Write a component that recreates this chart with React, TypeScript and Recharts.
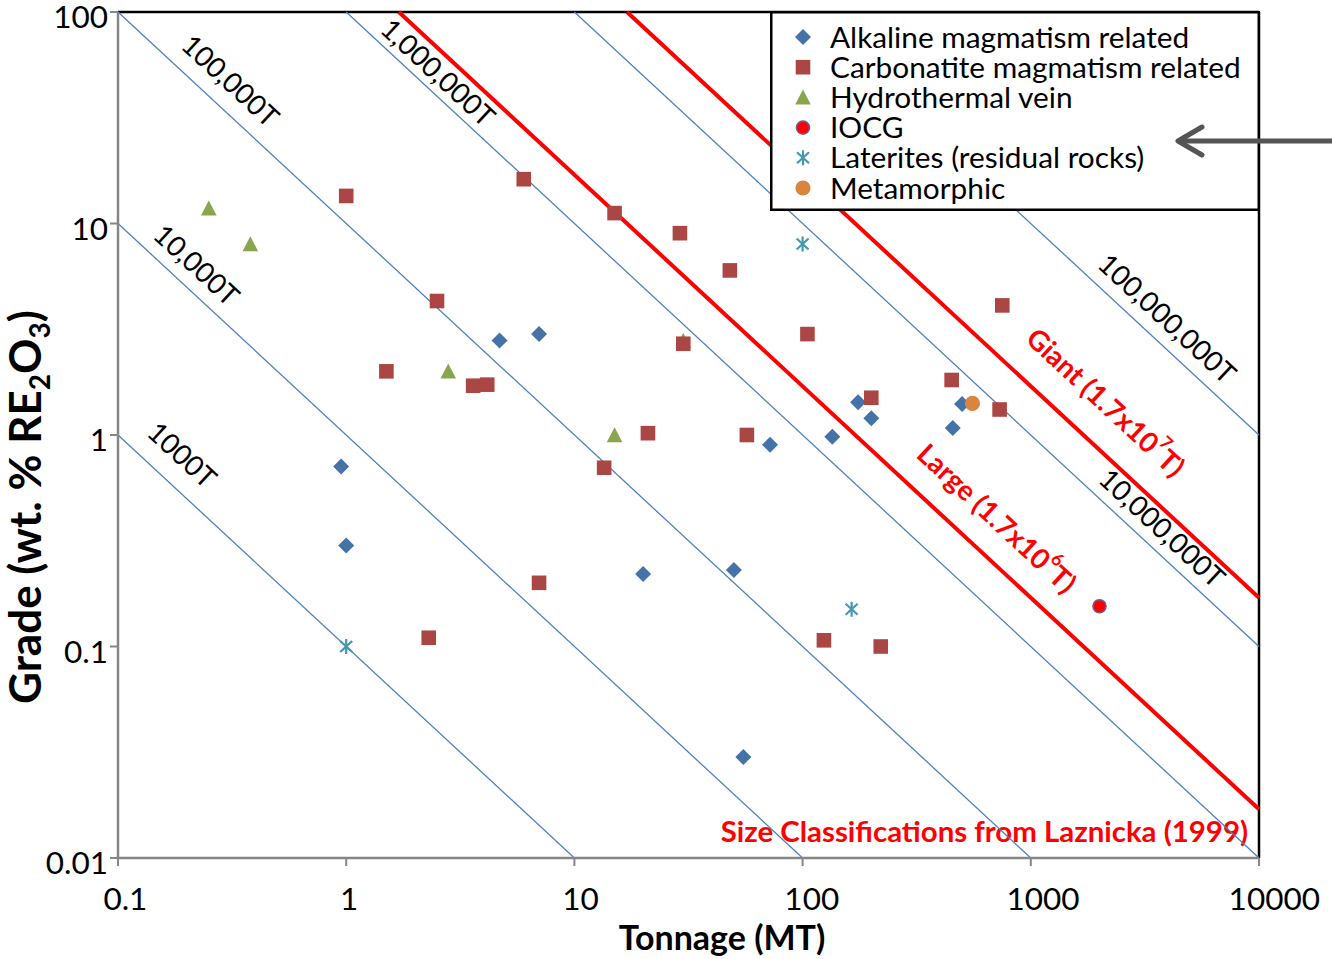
import React from 'react';
import { ScatterChart, Scatter, XAxis, YAxis, ReferenceLine, ReferenceDot, Legend } from 'recharts';

const FONT = 'Lato, "Open Sans", sans-serif';

// ---- axes ----
const X_MIN = 0.1;
const X_MAX = 10000;
const Y_MIN = 0.01;
const Y_MAX = 100;
const xTicks = [0.1, 1, 10, 100, 1000, 10000];
const yTicks = [0.01, 0.1, 1, 10, 100];

// ---- deposits: tonnage (MT) vs grade (wt. % RE2O3) ----
const alkaline = [
  { x: 0.95, y: 0.71 }, { x: 1.0, y: 0.3 }, { x: 4.7, y: 2.8 }, { x: 7.0, y: 3.0 },
  { x: 20, y: 0.22 }, { x: 50, y: 0.23 }, { x: 55, y: 0.03 }, { x: 72, y: 0.9 },
  { x: 135, y: 0.98 }, { x: 175, y: 1.43 }, { x: 200, y: 1.2 }, { x: 455, y: 1.08 },
  { x: 500, y: 1.4 },
];
const carbonatite = [
  { x: 1.0, y: 13.5 }, { x: 6.0, y: 16.2 }, { x: 15, y: 11.2 }, { x: 29, y: 9.0 },
  { x: 48, y: 6.0 }, { x: 2.5, y: 4.3 }, { x: 1.5, y: 2.0 }, { x: 3.6, y: 1.71 },
  { x: 4.15, y: 1.73 }, { x: 30, y: 2.7 }, { x: 105, y: 3.0 }, { x: 13.5, y: 0.7 },
  { x: 21, y: 1.02 }, { x: 57, y: 1.0 }, { x: 200, y: 1.5 }, { x: 450, y: 1.82 },
  { x: 750, y: 4.1 }, { x: 730, y: 1.32 }, { x: 2.3, y: 0.11 }, { x: 7.0, y: 0.2 },
  { x: 124, y: 0.107 }, { x: 220, y: 0.1 },
];
const hydrothermal = [
  { x: 0.25, y: 11.8 }, { x: 0.38, y: 8.0 }, { x: 2.8, y: 2.0 }, { x: 15, y: 1.0 }, { x: 30, y: 2.8 },
];
const iocg = [{ x: 2000, y: 0.155 }];
const laterites = [{ x: 1.0, y: 0.1 }, { x: 100, y: 8.0 }, { x: 164, y: 0.15 }];
const metamorphic = [{ x: 555, y: 1.41 }];

// ---- contained-metal iso-lines (tonnes RE2O3) ----
const isoTonnages = [1000, 10000, 100000, 1000000, 10000000, 100000000];
const isoLabels = ['1000T', '10,000T', '100,000T', '1,000,000T', '10,000,000T', '100,000,000T'];
// Laznicka (1999) size classes
const classTonnages = [1.7e6, 1.7e7];
const classNames = ['Large', 'Giant'];
const classExponents = ['6', '7'];

// ---- label layout (where along each line, and distance from it) ----
const isoLabelAt = [0.1565, 0.1887, 0.26, 2.23, 3256, 3378];
const isoLabelOffset = [30, 24, 27, 19, 22, 24];
const classLabelAt = [558, 1628];
const classLabelOffset = [36, 40];

// ---- layout ----
const W = 1332;
const H = 959;
const PLOT = { left: 118, top: 12, right: 1259, bottom: 858 };
const Y_AXIS_W = 60;
const X_AXIS_H = 60;
const M = {
  top: PLOT.top,
  right: W - PLOT.right,
  bottom: H - PLOT.bottom - X_AXIS_H,
  left: PLOT.left - Y_AXIS_W,
};
const PW = PLOT.right - PLOT.left;
const PH = PLOT.bottom - PLOT.top;
const ANGLE = (Math.atan2(PH / 4, PW / 5) * 180) / Math.PI;

const COLORS = {
  alkaline: '#4572A7',
  carbonatite: '#AA4643',
  hydro: '#89A54E',
  iocg: '#FF0000',
  iocgStroke: '#71588F',
  laterite: '#4198AF',
  meta: '#DB843D',
  iso: '#4F81BD',
  red: '#FF0000',
  axis: '#868686',
};

const seriesMeta = [
  { name: 'Alkaline magmatism related', kind: 'diamond' },
  { name: 'Carbonatite magmatism related', kind: 'square' },
  { name: 'Hydrothermal vein', kind: 'triangle' },
  { name: 'IOCG', kind: 'iocg' },
  { name: 'Laterites (residual rocks)', kind: 'asterisk' },
  { name: 'Metamorphic', kind: 'meta' },
];

function Marker({ kind, cx, cy }: { kind: string; cx: number; cy: number }) {
  if (cx == null || cy == null) return null;
  switch (kind) {
    case 'diamond':
      return <path d={`M${cx},${cy - 8}L${cx + 8},${cy}L${cx},${cy + 8}L${cx - 8},${cy}Z`} fill={COLORS.alkaline} />;
    case 'square':
      return <rect x={cx - 7.3} y={cy - 7.3} width={14.6} height={14.6} fill={COLORS.carbonatite} />;
    case 'triangle':
      return <path d={`M${cx},${cy - 7.8}L${cx + 7.8},${cy + 7.2}L${cx - 7.8},${cy + 7.2}Z`} fill={COLORS.hydro} />;
    case 'iocg':
      return <circle cx={cx} cy={cy} r={6.5} fill={COLORS.iocg} stroke={COLORS.iocgStroke} strokeWidth={1.6} />;
    case 'asterisk':
      return (
        <g stroke={COLORS.laterite} strokeWidth={2.2}>
          <line x1={cx} y1={cy - 7.5} x2={cx} y2={cy + 7.5} />
          <line x1={cx - 6} y1={cy - 5.5} x2={cx + 6} y2={cy + 5.5} />
          <line x1={cx - 6} y1={cy + 5.5} x2={cx + 6} y2={cy - 5.5} />
        </g>
      );
    case 'meta':
      return <circle cx={cx} cy={cy} r={7.6} fill={COLORS.meta} />;
    default:
      return null;
  }
}

const shapeOf = (kind: string) => (p: any) => <Marker kind={kind} cx={p.cx} cy={p.cy} />;

function isoSegment(tonnes: number) {
  const k = tonnes / 1e4; // tonnage(MT) * grade(%) product
  const x0 = Math.max(X_MIN, k / Y_MAX);
  const x1 = Math.min(X_MAX, k / Y_MIN);
  return [
    { x: x0, y: k / x0 },
    { x: x1, y: k / x1 },
  ];
}

function lineLabel(content: React.ReactNode, offset: number, color: string, bold: boolean, size: number) {
  return (props: any) => {
    const vb = props.viewBox || {};
    const cx = (vb.x || 0) + (vb.width || 0) / 2;
    const cy = (vb.y || 0) + (vb.height || 0) / 2;
    return (
      <text
        transform={`translate(${cx},${cy}) rotate(${ANGLE})`}
        x={0}
        y={-offset}
        textAnchor="middle"
        dominantBaseline="central"
        fill={color}
        fontFamily={FONT}
        fontSize={size}
        fontWeight={bold ? 700 : 400}
      >
        {content}
      </text>
    );
  };
}

const XTick = (props: any) => {
  const { x, y, payload } = props;
  const label = String(payload.value);
  const digits = label.replace('.', '').length;
  const dots = label.length - digits;
  const w = digits * 18 + dots * 7.5;
  return (
    <text x={x + 0.17 * w} y={y + 44} textAnchor="middle" fontFamily={FONT} fontSize={31.5} fill="#000">
      {label}
    </text>
  );
};

const YTick = (props: any) => {
  const { x, y, payload } = props;
  return (
    <text x={x} y={y + 16} textAnchor="end" fontFamily={FONT} fontSize={31.5} fill="#000">
      {String(payload.value)}
    </text>
  );
};

// legend box (770..1260 x 11..211) plus the pointer arrow that overlaps it
const LEG = { left: 770, top: 11, w: 490, h: 200, full: W - 770 };
const LegendBox = () => (
  <svg width={LEG.full} height={LEG.h} style={{ display: 'block', overflow: 'visible' }}>
    <rect x={1.25} y={1.25} width={LEG.w - 2.5} height={LEG.h - 2.5} fill="#fff" stroke="#000" strokeWidth={2.5} />
    {seriesMeta.map((s, i) => {
      const cy = 26 + i * 30.2;
      return (
        <g key={s.name}>
          <Marker kind={s.kind} cx={33} cy={cy} />
          <text x={60} y={cy + 10.5} fontFamily={FONT} fontSize={29.8} fill="#000">
            {s.name}
          </text>
        </g>
      );
    })}
    <g stroke="#555555" strokeWidth={5} fill="none" strokeLinecap="round" transform={`translate(${-LEG.left},${-LEG.top})`}>
      <line x1={1334} y1={141} x2={1180} y2={141} />
      <polyline points="1202,127 1178,141 1202,155" strokeLinejoin="round" />
    </g>
  </svg>
);

export default function App() {
  return (
    <div style={{ position: 'absolute', left: 0, top: 0, width: W, height: H, background: '#fff', fontFamily: FONT }}>
      <ScatterChart width={W} height={H} margin={M}>
        <XAxis
          type="number"
          dataKey="x"
          scale="log"
          domain={[X_MIN, X_MAX]}
          ticks={xTicks}
          allowDataOverflow
          height={X_AXIS_H}
          tickSize={8}
          tickMargin={0}
          tick={<XTick />}
          tickLine={{ stroke: COLORS.axis, strokeWidth: 2 }}
          axisLine={{ stroke: COLORS.axis, strokeWidth: 2.5 }}
          interval={0}
        />
        <YAxis
          type="number"
          dataKey="y"
          scale="log"
          domain={[Y_MIN, Y_MAX]}
          ticks={yTicks}
          allowDataOverflow
          width={Y_AXIS_W}
          tickSize={8}
          tickMargin={2}
          tick={<YTick />}
          tickLine={{ stroke: COLORS.axis, strokeWidth: 2 }}
          axisLine={{ stroke: COLORS.axis, strokeWidth: 2.5 }}
          interval={0}
        />

        <ReferenceLine y={Y_MAX} stroke="#000" strokeWidth={2.5} ifOverflow="visible" />
        <ReferenceLine x={X_MAX} stroke="#000" strokeWidth={2.5} ifOverflow="visible" />

        {isoTonnages.map((t) => (
          <ReferenceLine key={`iso-${t}`} segment={isoSegment(t)} stroke={COLORS.iso} strokeWidth={1.3} ifOverflow="visible" />
        ))}
        {classTonnages.map((t) => (
          <ReferenceLine key={`cls-${t}`} segment={isoSegment(t)} stroke={COLORS.red} strokeWidth={4} ifOverflow="visible" />
        ))}

        {isoTonnages.map((t, i) => (
          <ReferenceDot
            key={`isolab-${t}`}
            x={isoLabelAt[i]}
            y={t / 1e4 / isoLabelAt[i]}
            r={0}
            fill="none"
            stroke="none"
            ifOverflow="visible"
            label={{ content: lineLabel(isoLabels[i], isoLabelOffset[i], '#000', false, 28) }}
          />
        ))}
        {classTonnages.map((t, i) => (
          <ReferenceDot
            key={`clslab-${t}`}
            x={classLabelAt[i]}
            y={t / 1e4 / classLabelAt[i]}
            r={0}
            fill="none"
            stroke="none"
            ifOverflow="visible"
            label={{
              content: lineLabel(
                <>
                  {`${classNames[i]} (1.7x10`}
                  <tspan dy={-11} fontSize={18}>{classExponents[i]}</tspan>
                  <tspan dy={11}>T)</tspan>
                </>,
                classLabelOffset[i],
                COLORS.red,
                true,
                28
              ),
            }}
          />
        ))}

        <Scatter name={seriesMeta[0].name} data={alkaline} fill={COLORS.alkaline} shape={shapeOf('diamond')} isAnimationActive={false} />
        <Scatter name={seriesMeta[2].name} data={hydrothermal} fill={COLORS.hydro} shape={shapeOf('triangle')} isAnimationActive={false} />
        <Scatter name={seriesMeta[1].name} data={carbonatite} fill={COLORS.carbonatite} shape={shapeOf('square')} isAnimationActive={false} />
        <Scatter name={seriesMeta[3].name} data={iocg} fill={COLORS.iocg} shape={shapeOf('iocg')} isAnimationActive={false} />
        <Scatter name={seriesMeta[4].name} data={laterites} fill={COLORS.laterite} shape={shapeOf('asterisk')} isAnimationActive={false} />
        <Scatter name={seriesMeta[5].name} data={metamorphic} fill={COLORS.meta} shape={shapeOf('meta')} isAnimationActive={false} />

        <Legend
          layout="vertical"
          align="center"
          verticalAlign="middle"
          width={LEG.full}
          height={LEG.h}
          wrapperStyle={{ position: 'absolute', left: LEG.left, top: LEG.top, width: LEG.full, height: LEG.h }}
          content={() => <LegendBox />}
        />

        <text x={1248} y={842} textAnchor="end" fontFamily={FONT} fontSize={29.4} fontWeight={700} fill={COLORS.red}>
          Size Classifications from Laznicka (1999)
        </text>
        <text x={722} y={950} textAnchor="middle" fontFamily={FONT} fontSize={34} fontWeight={700} fill="#000">
          Tonnage (MT)
        </text>
        <text transform="translate(41,507) rotate(-90)" textAnchor="middle" fontFamily={FONT} fontSize={44} fontWeight={700} fill="#000">
          Grade (wt. % RE
          <tspan dy={9} fontSize={28}>2</tspan>
          <tspan dy={-9}>O</tspan>
          <tspan dy={9} fontSize={28}>3</tspan>
          <tspan dy={-9}>)</tspan>
        </text>
      </ScatterChart>
    </div>
  );
}
